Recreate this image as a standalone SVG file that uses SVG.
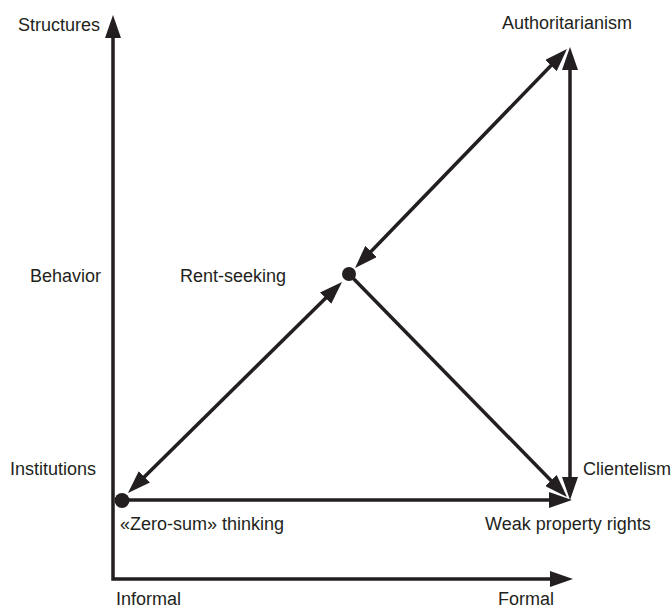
<svg xmlns="http://www.w3.org/2000/svg" width="672" height="609" viewBox="0 0 672 609">
<defs>
<style>
text{font-family:"Liberation Sans",Arial,sans-serif;font-size:18px;fill:#231f20}
.c{fill:none;stroke:#231f20;stroke-width:3.5;stroke-linejoin:miter}
.dot{fill:#231f20}
</style>
<marker id="ah" viewBox="0 0 23 16" refX="13" refY="8" markerWidth="23" markerHeight="16" markerUnits="userSpaceOnUse" orient="auto-start-reverse">
<path d="M0,0 L23,8 L0,16 z" fill="#231f20"/>
</marker>
</defs>
<rect width="672" height="609" fill="#fff"/>
<g id="connectors">
<polyline class="c" points="113,25 113,579 563,579" marker-start="url(#ah)" marker-end="url(#ah)"/>
<line class="c" x1="570" y1="57" x2="570" y2="490" marker-start="url(#ah)" marker-end="url(#ah)"/>
<line class="c" x1="122" y1="500" x2="562" y2="500" marker-end="url(#ah)"/>
<line class="c" x1="349" y1="274" x2="560" y2="489.8" marker-end="url(#ah)"/>
<line class="c" x1="362" y1="260.8" x2="560" y2="56.2" marker-start="url(#ah)" marker-end="url(#ah)"/>
<line class="c" x1="135.1" y1="486" x2="334.9" y2="289" marker-start="url(#ah)" marker-end="url(#ah)"/>
</g>
<g id="axis-labels">
<text x="18" y="31">Structures</text>
<text x="30" y="282">Behavior</text>
<text x="10" y="475">Institutions</text>
<text x="116" y="605">Informal</text>
<text x="498" y="605">Formal</text>
</g>
<g id="node-zero-sum">
<circle class="dot" cx="122" cy="500.5" r="7.5"/>
<text x="120" y="530">«Zero-sum» thinking</text>
</g>
<g id="node-rent-seeking">
<circle class="dot" cx="349" cy="274" r="7"/>
<text x="180" y="282">Rent-seeking</text>
</g>
<g id="node-authoritarianism">
<text x="502" y="29">Authoritarianism</text>
</g>
<g id="node-weak-property-rights">
<text x="485" y="530">Weak property rights</text>
</g>
<g id="node-clientelism">
<text x="583" y="475">Clientelism</text>
</g>
</svg>
